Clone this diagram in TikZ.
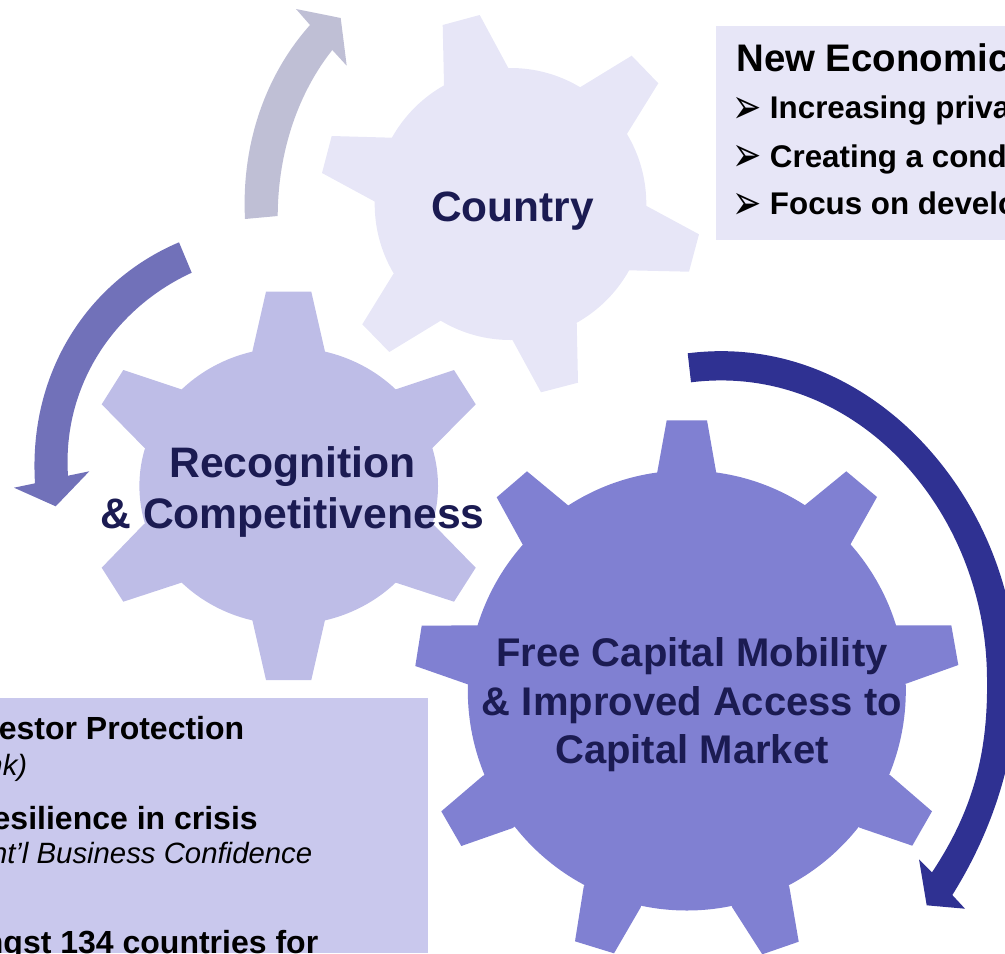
\documentclass[tikz,border=0pt]{standalone}
\usepackage{fontspec}
\setmainfont{Liberation Sans}
\newfontfamily\arrowfont{DejaVu Sans}
\definecolor{gearA}{HTML}{E7E6F7}
\definecolor{gearB}{HTML}{BEBDE7}
\definecolor{gearC}{HTML}{8080D2}
\definecolor{arrGrey}{HTML}{BFBFD5}
\definecolor{arrMid}{HTML}{7171B9}
\definecolor{arrDark}{HTML}{2F3192}
\definecolor{navyText}{HTML}{1B1B52}
\definecolor{boxLeft}{HTML}{C9C8ED}
\newcommand{\tooth}[6]{\fill[#1] #3 -- #4 -- #5 -- #6 -- #2 -- cycle;}
\newcommand{\bulletglyph}{\scalebox{1.25}[1.75]{➢}}
\tikzset{
  geartext/.style={text=navyText,font=\bfseries,inner sep=0pt,align=center},
  headline/.style={anchor=base west,inner sep=0pt,font=\fontsize{28.8pt}{32pt}\selectfont\bfseries},
  bullettext/.style={anchor=base west,inner sep=0pt,font=\fontsize{23.5pt}{27pt}\selectfont\bfseries},
  bulletmark/.style={anchor=base west,inner sep=0pt,font=\fontsize{21pt}{25pt}\selectfont\arrowfont},
  leftbold/.style={anchor=base east,inner sep=0pt,font=\fontsize{24pt}{27pt}\selectfont\bfseries},
  leftital/.style={anchor=base east,inner sep=0pt,font=\fontsize{22pt}{26pt}\selectfont\itshape},
}
\begin{document}
\begin{tikzpicture}[x=0.75pt,y=-0.75pt]
\useasboundingbox (0,0) rectangle (1005,953);
\clip (0,0) rectangle (1005,953);

% info boxes
\fill[gearA] (716,26) rectangle (1005,240);
\fill[boxLeft] (0,698) rectangle (428,953);

% Country gear
\coordinate (ca) at (510.5,204);
\fill[gearA] (ca) ellipse [x radius=135.8, y radius=136];
\tooth{gearA}{(ca)}{(444,85.7)}{(442.7,25)}{(479.7,15)}{(508.3,68)}
\tooth{gearA}{(ca)}{(580,87.3)}{(631.7,55.7)}{(658.3,83.3)}{(626.7,134.3)}
\tooth{gearA}{(ca)}{(646,205.7)}{(699,234.3)}{(689,271.7)}{(628.3,270.3)}
\tooth{gearA}{(ca)}{(576.7,322)}{(578,382.7)}{(541,392.3)}{(512.3,339.7)}
\tooth{gearA}{(ca)}{(440.7,320.7)}{(389.3,352)}{(362.3,324.3)}{(393.3,274)}
\tooth{gearA}{(ca)}{(375,201.7)}{(322,173)}{(331.7,136)}{(391.7,137.7)}

% Recognition gear
\coordinate (cb) at (288.7,486);
\fill[gearB] (cb) ellipse [x radius=149.3, y radius=138.5];
\tooth{gearB}{(cb)}{(252.3,351.7)}{(266,291.7)}{(311.3,291.7)}{(325,351.7)}
\tooth{gearB}{(cb)}{(396,389.3)}{(454,370)}{(475.7,404.3)}{(432.7,447.7)}
\tooth{gearB}{(cb)}{(432.7,523.7)}{(475.7,567.7)}{(454,601.7)}{(396,582.7)}
\tooth{gearB}{(cb)}{(325,620)}{(311.3,680)}{(266,680)}{(252.3,620)}
\tooth{gearB}{(cb)}{(181.3,582.7)}{(123.3,601.7)}{(101.7,567.7)}{(144.3,523.7)}
\tooth{gearB}{(cb)}{(144.3,447.7)}{(101.7,404.3)}{(123.3,370)}{(181.3,389.3)}

% Capital gear
\coordinate (cc) at (686.8,690.5);
\fill[gearC] (cc) ellipse [x radius=219, y radius=220];
\tooth{gearC}{(cc)}{(656.7,475.3)}{(666.7,420.3)}{(707,420.3)}{(716.7,475.3)}
\tooth{gearC}{(cc)}{(803,506.7)}{(846.3,471.3)}{(877,497)}{(849.7,545.7)}
\tooth{gearC}{(cc)}{(895.7,625.3)}{(951.3,625.3)}{(958.3,665)}{(906,683.7)}
\tooth{gearC}{(cc)}{(890.3,775.3)}{(932,811.3)}{(912.3,845.7)}{(859.7,827.7)}
\tooth{gearC}{(cc)}{(789.3,886.7)}{(798.7,941.7)}{(762.3,954.3)}{(732,907)}
\tooth{gearC}{(cc)}{(640.7,907.3)}{(614,953.3)}{(575,941.3)}{(583.7,886.7)}
\tooth{gearC}{(cc)}{(512.7,828)}{(461.3,846)}{(441.3,811.3)}{(483,775.7)}
\tooth{gearC}{(cc)}{(467.7,684.3)}{(415.3,666)}{(421.7,625.7)}{(477.7,625.3)}
\tooth{gearC}{(cc)}{(523.3,545.7)}{(496.7,497.3)}{(527,471.3)}{(569.7,506.7)}

% curved arrows
\fill[arrGrey] (245,219) .. controls (241,140) and (268,72) .. (310,25)
  -- (296,9) -- (340.7,18) -- (346.7,65.7) -- (332.3,50)
  .. controls (299,92) and (278,150) .. (277.7,216) -- cycle;
\fill[arrMid] (179,242.3) .. controls (90,280) and (28,370) .. (35,483.3)
  -- (14,487.7) -- (55.7,506.3) -- (89.3,471.3) -- (68,475.7)
  .. controls (62,385) and (115,308) .. (191.7,272.7) -- cycle;
\fill[arrDark] (687.7,353.3) .. controls (870,330) and (1017,500) .. (1017,680)
  .. controls (1017,760) and (990,835) .. (952.3,895)
  -- (965,908.7) -- (926.7,905.3) -- (919,859.3) -- (932,872.3)
  .. controls (972,812) and (988,755) .. (987,680)
  .. controls (987,510) and (855,362) .. (691,382.3) -- cycle;

% gear labels
\node[geartext,font=\fontsize{31.8pt}{38pt}\selectfont\bfseries,anchor=base] (country) at (512.5,221) {Country};
\node[geartext,font=\fontsize{32pt}{38pt}\selectfont\bfseries] (recog) at (292.5,492) {Recognition\\\& Competitiveness};
\node[geartext,font=\fontsize{30pt}{36.3pt}\selectfont\bfseries] (capital) at (692,705) {Free Capital Mobility\\\& Improved Access to\\Capital Market};

% right box text
\node[headline] (econ) at (736,71) {New Economic};
\node[bulletmark] (b1) at (732,123) {\bulletglyph};
\node[bullettext] (t1) at (769.7,118.5) {Increasing priva};
\node[bulletmark] (b2) at (732,171.7) {\bulletglyph};
\node[bullettext] (t2) at (769.7,167) {Creating a cond};
\node[bulletmark] (b3) at (732,219) {\bulletglyph};
\node[bullettext] (t3) at (769.7,214.5) {Focus on develo};

% left box text
\node[leftbold] (l1) at (244.5,739.5) {estor Protection};
\node[leftital] (l2) at (27.5,775) {nk)};
\node[leftbold] (l3) at (258,829) {esilience in crisis};
\node[leftital] (l4) at (312.5,863.5) {nt’l Business Confidence};
\node[leftbold] (l5) at (318.5,953) {ngst 134 countries for};
\end{tikzpicture}
\end{document}
